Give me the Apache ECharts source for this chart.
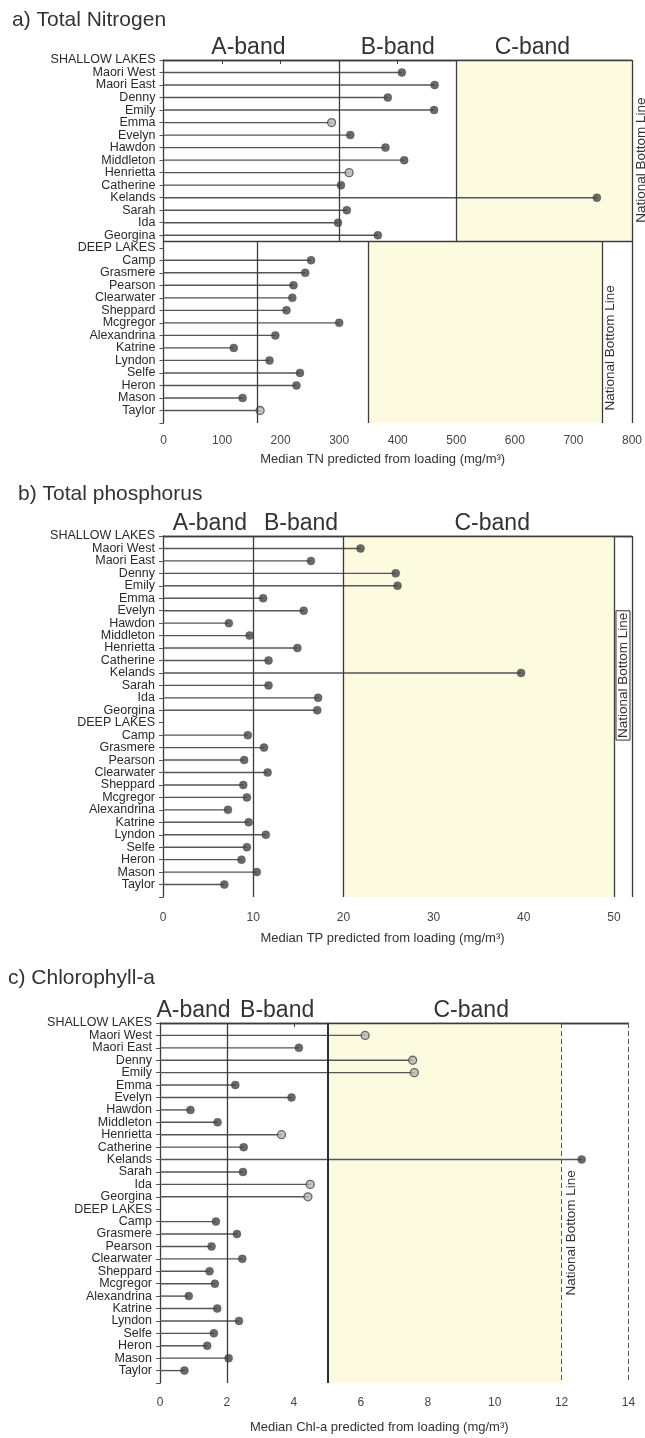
<!DOCTYPE html>
<html>
<head>
<meta charset="utf-8">
<script src="https://cdn.jsdelivr.net/npm/echarts@6/dist/echarts.min.js"></script>
<style>
    html, body { margin: 0; padding: 0; background: #fff; }
    #main { width: 645px; height: 1438px; }
</style>
</head>
<body>
<div id="main"></div>
<script>
// lake names, top to bottom
var shallowNames = ['Maori West', 'Maori East', 'Denny', 'Emily', 'Emma', 'Evelyn', 'Hawdon', 'Middleton',
    'Henrietta', 'Catherine', 'Kelands', 'Sarah', 'Ida', 'Georgina'];
var deepNames = ['Camp', 'Grasmere', 'Pearson', 'Clearwater', 'Sheppard', 'Mcgregor', 'Alexandrina', 'Katrine',
    'Lyndon', 'Selfe', 'Heron', 'Mason', 'Taylor'];

// a) median TN (mg/m3)
var tnShallow = [407, 463, 383, 462, 287, 319, 379, 411, 317, 303, 740, 313, 298, 366];
var tnDeep = [252, 242, 222, 220, 210, 300, 191, 120, 181, 233, 227, 135, 165];
// b) median TP (mg/m3)
var tpShallow = [21.9, 16.4, 25.8, 26.0, 11.1, 15.6, 7.3, 9.6, 14.9, 11.7, 39.7, 11.7, 17.2, 17.1];
var tpDeep = [9.4, 11.2, 9.0, 11.6, 8.9, 9.3, 7.2, 9.5, 11.4, 9.3, 8.7, 10.4, 6.8];
// c) median Chl-a (mg/m3)
var chlShallow = [6.13, 4.15, 7.55, 7.6, 2.25, 3.93, 0.91, 1.72, 3.63, 2.5, 12.6, 2.48, 4.49, 4.42];
var chlDeep = [1.67, 2.3, 1.54, 2.46, 1.48, 1.64, 0.86, 1.71, 2.36, 1.61, 1.41, 2.05, 0.73];

// lakes drawn with a hollow marker
var hollowA = ['Emma', 'Henrietta', 'Taylor'];
var hollowB = [];
var hollowC = ['Maori West', 'Denny', 'Emily', 'Henrietta', 'Ida', 'Georgina'];

// band limits: A/B, B/C, bottom line
var tnShallowBands = [300, 500, 800];
var tnDeepBands = [160, 350, 750];
var tpBands = [10, 20, 50];
var chlBands = [2, 5, 12];

var xTicksA = [0, 800, 100];
var xTicksB = [0, 52, 10];
var xTicksC = [0, 14, 2];

var FONT = 'Liberation Sans, Arial, sans-serif';
var rowNames = ['SHALLOW LAKES'].concat(shallowNames, ['DEEP LAKES'], deepNames, ['']);
var LAST = rowNames.length - 1;
var MID = shallowNames.length + 0.5;

var toPoints = function (shallow, deep, hollow) {
    var pts = [];
    var push = function (name, v, row) {
        var open = hollow.indexOf(name) >= 0;
        pts.push({
            value: [v, row],
            itemStyle: open ? {color: '#b4b4b4', borderColor: '#4a4a4a', borderWidth: 1.3}
                            : {color: '#454545', borderColor: '#454545', borderWidth: 0.5}
        });
    };
    shallowNames.forEach(function (n, i) { push(n, shallow[i], i + 1); });
    deepNames.forEach(function (n, i) { push(n, deep[i], i + shallowNames.length + 2); });
    return pts;
};

var seg = function (x0, y0, x1, y1, style) {
    return [{coord: [x0, y0], lineStyle: style || {}}, {coord: [x1, y1]}];
};
var bandLabel = function (text, x) {
    return {coord: [x, 0], value: text, label: {formatter: text}};
};
// rotated label: offset[1] pushes it to the right
var nbl = function (x, y, boxed, dx) {
    return {
        coord: [x, y], value: 'nbl',
        label: {
            formatter: 'National Bottom Line', position: 'inside', rotate: 90, fontSize: 13.5,
            offset: [0, dx || 0],
            borderColor: boxed ? '#333' : 'transparent', borderWidth: boxed ? 1 : 0, padding: [0, 2]
        }
    };
};

var stemRender = function (params, api) {
    var p0 = api.coord([0, api.value(1)]);
    var p1 = api.coord([api.value(0), api.value(1)]);
    return {
        type: 'line',
        shape: {x1: p0[0], y1: p0[1], x2: p1[0], y2: p1[1]},
        style: {stroke: '#555', lineWidth: 1.4}
    };
};

var frame = {color: '#3c3c3c', width: 1.3, type: 'solid'};
var thick = {color: '#2e2e2e', width: 2, type: 'solid'};
var dashed = {color: '#555', width: 1, type: [5, 3]};

var panel = function (k, pts, areas, lines, points) {
    return [
        {
            type: 'line', xAxisIndex: k, yAxisIndex: 2 * k, data: [], z: 1, silent: true,
            markArea: {silent: true, itemStyle: {color: '#fcfbe0'}, data: areas},
            markLine: {silent: true, symbol: ['none', 'none'], label: {show: false}, lineStyle: frame, data: lines},
            markPoint: {
                silent: true, symbol: 'circle', symbolSize: 0, itemStyle: {color: 'transparent'}, data: points,
                label: {show: true, position: 'top', distance: 1, color: '#333', fontSize: 23, fontFamily: FONT}
            }
        },
        {type: 'custom', xAxisIndex: k, yAxisIndex: 2 * k, z: 3, clip: false, renderItem: stemRender,
            data: pts.map(function (p) { return p.value; })},
        {type: 'scatter', xAxisIndex: k, yAxisIndex: 2 * k, z: 4, symbolSize: 8, data: pts}
    ];
};

var xAxisOf = function (k, ticks, name, margin, gap) {
    return {
        type: 'value', gridIndex: k, min: ticks[0], max: ticks[1], interval: ticks[2],
        splitLine: {show: false},
        axisLine: {lineStyle: {color: '#3c3c3c', width: 1.3}},
        axisTick: {length: 4, lineStyle: {color: '#444'}},
        axisLabel: {color: '#444', fontSize: 12, fontFamily: FONT, margin: margin, showMaxLabel: ticks[1] % ticks[2] === 0},
        name: name, nameLocation: 'middle', nameGap: gap,
        nameTextStyle: {color: '#333', fontSize: 13, fontFamily: FONT, padding: [0, 30, 0, 0]}
    };
};
// value axis carries the marks, a category twin carries the lake names
var yAxesOf = function (k) {
    return [
        {
            type: 'value', gridIndex: k, inverse: true, min: 0, max: LAST, interval: 1, position: 'left',
            splitLine: {show: false}, axisLabel: {show: false},
            axisLine: {lineStyle: {color: '#3c3c3c', width: 1.3}},
            axisTick: {length: 4, lineStyle: {color: '#555'}}
        },
        {
            type: 'category', gridIndex: k, inverse: true, boundaryGap: false, data: rowNames, position: 'left',
            axisLine: {show: false}, axisTick: {show: false}, splitLine: {show: false},
            axisLabel: {color: '#2a2a2a', fontSize: 12.5, fontFamily: FONT, margin: 8, interval: 0}
        }
    ];
};

var myChart = echarts.init(document.getElementById('main'), null, {renderer: 'canvas'});

var seriesA = panel(0, toPoints(tnShallow, tnDeep, hollowA),
    [
        [{coord: [tnShallowBands[1], 0]}, {coord: [tnShallowBands[2], MID]}],
        [{coord: [tnDeepBands[1], MID]}, {coord: [tnDeepBands[2], LAST]}]
    ],
    [
        seg(0, 0, xTicksA[1], 0), seg(xTicksA[1], 0, xTicksA[1], LAST), seg(0, MID, xTicksA[1], MID),
        seg(tnShallowBands[0], 0, tnShallowBands[0], MID), seg(tnShallowBands[1], 0, tnShallowBands[1], MID),
        seg(tnDeepBands[0], MID, tnDeepBands[0], LAST), seg(tnDeepBands[1], MID, tnDeepBands[1], LAST),
        seg(tnDeepBands[2], MID, tnDeepBands[2], LAST)
    ],
    [bandLabel('A-band', 145), bandLabel('B-band', 400), bandLabel('C-band', 630),
        nbl(800, 8, false, 9), nbl(763, 23, false)]
);

var seriesB = panel(1, toPoints(tpShallow, tpDeep, hollowB),
    [[{coord: [tpBands[1], 0]}, {coord: [tpBands[2], LAST]}]],
    [
        seg(0, 0, xTicksB[1], 0), seg(xTicksB[1], 0, xTicksB[1], LAST),
        seg(tpBands[0], 0, tpBands[0], LAST), seg(tpBands[1], 0, tpBands[1], LAST),
        seg(tpBands[2], 0, tpBands[2], LAST)
    ],
    [bandLabel('A-band', 5.2), bandLabel('B-band', 15.3), bandLabel('C-band', 36.5), nbl(51, 11.2, true)]
);

var seriesC = panel(2, toPoints(chlShallow, chlDeep, hollowC),
    [[{coord: [chlBands[1], 0]}, {coord: [chlBands[2], LAST]}]],
    [
        seg(0, 0, xTicksC[1], 0), seg(xTicksC[1], 0, xTicksC[1], LAST, dashed),
        seg(chlBands[0], 0, chlBands[0], LAST), seg(chlBands[1], 0, chlBands[1], LAST, thick),
        seg(chlBands[2], 0, chlBands[2], LAST, dashed)
    ],
    [bandLabel('A-band', 1.0), bandLabel('B-band', 3.5), bandLabel('C-band', 9.3), nbl(12.3, 16.9, false)]
);

var titleStyle = {fontSize: 21, fontWeight: 'normal', color: '#333', fontFamily: FONT};
option = {
    backgroundColor: '#fff',
    animation: false,
    title: [
        {text: 'a) Total Nitrogen', left: 12, top: 10, padding: 0, textStyle: titleStyle},
        {text: 'b) Total phosphorus', left: 18, top: 484, padding: 0, textStyle: titleStyle},
        {text: 'c) Chlorophyll-a', left: 8, top: 968, padding: 0, textStyle: titleStyle}
    ],
    grid: [
        {left: 163.5, top: 60, width: 469, height: 363},
        {left: 163, top: 536, width: 469, height: 361},
        {left: 160, top: 1023, width: 468.5, height: 360}
    ],
    xAxis: [
        xAxisOf(0, xTicksA, 'Median TN predicted from loading (mg/m³)', 12, 30),
        xAxisOf(1, xTicksB, 'Median TP predicted from loading (mg/m³)', 15, 35),
        xAxisOf(2, xTicksC, 'Median Chl-a predicted from loading (mg/m³)', 14, 38)
    ],
    yAxis: yAxesOf(0).concat(yAxesOf(1), yAxesOf(2)),
    series: seriesA.concat(seriesB, seriesC)
};
myChart.setOption(option);
</script>
</body>
</html>
